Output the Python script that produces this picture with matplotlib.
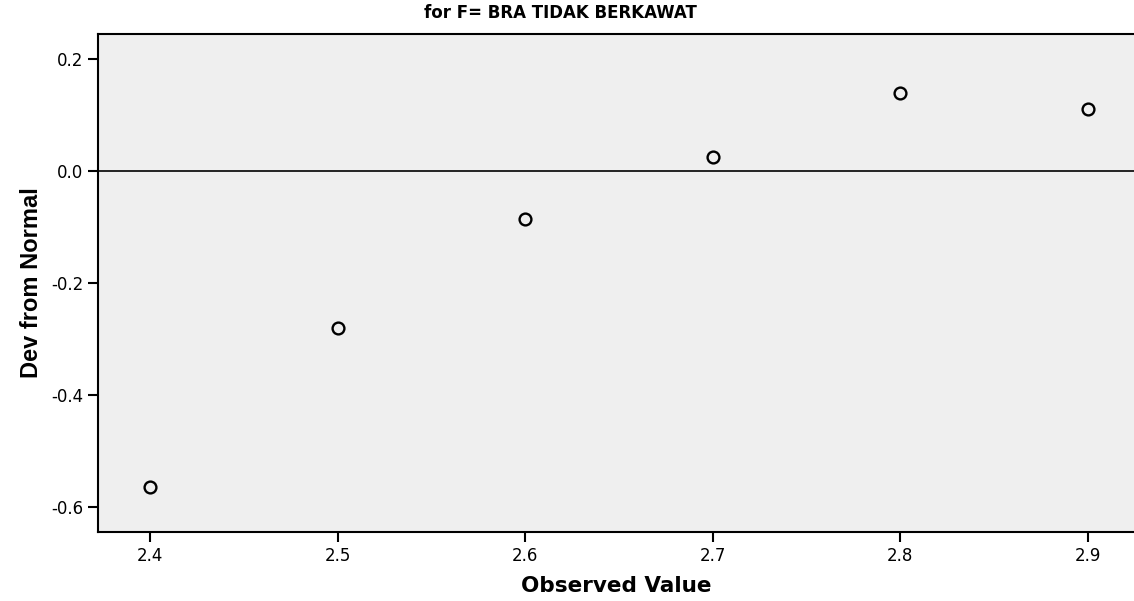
import matplotlib
matplotlib.use('Agg')
import matplotlib.pyplot as plt

plt.rcParams['font.family'] = ['DejaVu Sans']

observed = [2.4, 2.5, 2.6, 2.7, 2.8, 2.9]
dev_normal = [-0.563, -0.280, -0.086, 0.025, 0.139, 0.111]
xticks = [2.4, 2.5, 2.6, 2.7, 2.8, 2.9]
yticks = [-0.6, -0.4, -0.2, 0.0, 0.2]

fig = plt.figure(figsize=(11.34, 6.01), dpi=100)
ax = fig.add_axes([0.0864, 0.1148, 0.9136, 0.8286])
ax.set_facecolor('#efefef')

ax.axhline(0, color='black', lw=1.2, zorder=1)
ax.plot(observed, dev_normal, 'o', ms=8.5, mfc='none', mec='black', mew=1.7, zorder=3)

ax.set_xlim(2.3723, 2.9245)
ax.set_ylim(-0.644, 0.2446)
ax.set_xticks(xticks)
ax.set_xticklabels(['%.1f' % v for v in xticks])
ax.set_yticks(yticks)
ax.set_yticklabels(['%.1f' % v for v in yticks])
ax.tick_params(direction='out', length=7, width=1.5, labelsize=12, colors='black')

for s in ['left', 'bottom', 'top']:
    ax.spines[s].set_linewidth(1.5)
ax.spines['right'].set_visible(False)

ax.set_xlabel('Observed Value', fontsize=15.5, fontweight='bold', labelpad=8)
ax.set_ylabel('Dev from Normal', fontsize=17, fontweight='bold',
              family=['Liberation Sans', 'DejaVu Sans'], labelpad=6)
fig.text(0.494, 0.978, 'for F= BRA TIDAK BERKAWAT', fontsize=12, fontweight='bold',
         ha='center', va='center')

fig.savefig('out.png', dpi=100)
